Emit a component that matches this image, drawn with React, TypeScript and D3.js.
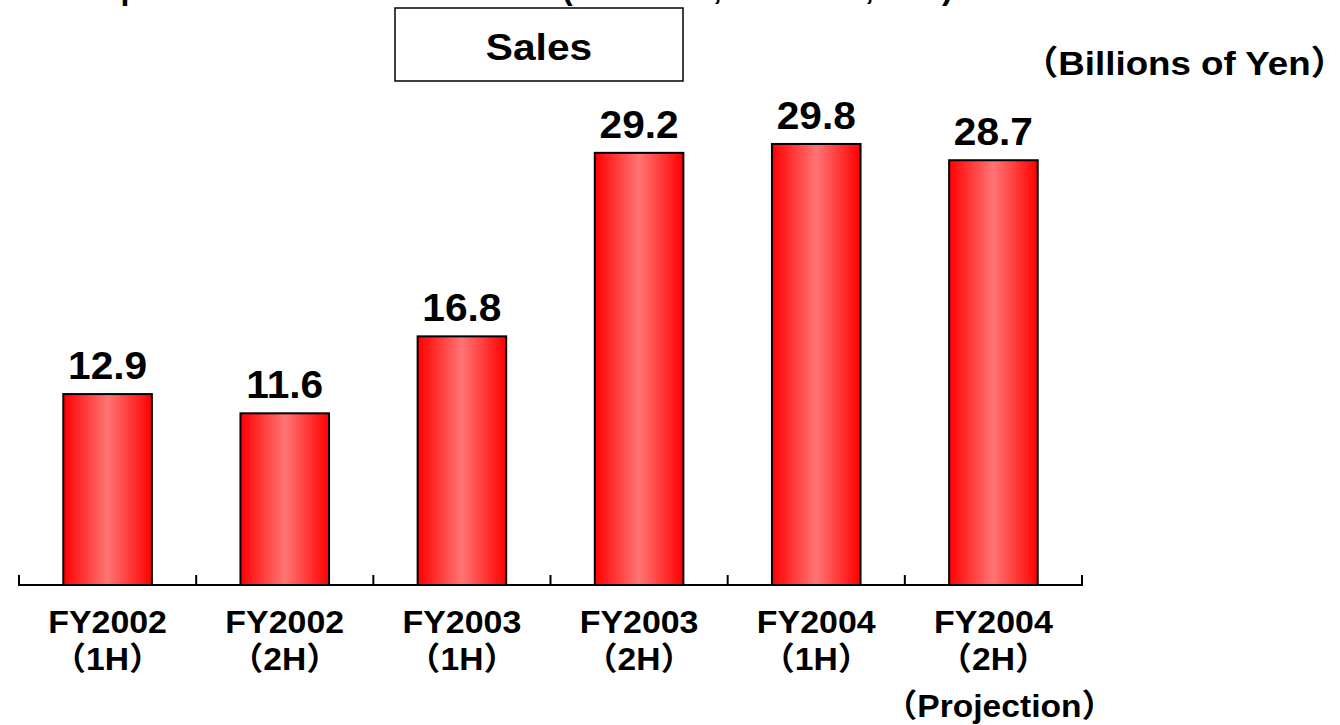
import React from "react";
import * as d3 from "d3";

const categories = ["FY2002", "FY2002", "FY2003", "FY2003", "FY2004", "FY2004"];
const periods = ["（1H）", "（2H）", "（1H）", "（2H）", "（1H）", "（2H）"];
const notes = ["", "", "", "", "", "（Projection）"];
const sales = [12.9, 11.6, 16.8, 29.2, 29.8, 28.7];
const chartTitle = "Sales";
const unitLabel = "（Billions of Yen）";

const W = 1340;
const H = 725;
const FONT = "'Liberation Sans', Arial, 'Noto Sans CJK JP', sans-serif";

export default function App() {
  const idx = sales.map((_, i) => String(i));
  const x = d3.scaleBand<string>().domain(idx).range([19, 1082]).paddingInner(0.5).paddingOuter(0.25);
  const y = d3.scaleLinear().domain([0, 35]).range([585, 67]);
  const step = x.step();
  const left = 19;
  const ticks = d3.range(categories.length + 1).map((i) => left + i * step);

  const txt = (
    s: string,
    tx: number,
    ty: number,
    size: number,
    sx: number,
    anchor: "start" | "middle" | "end" = "middle"
  ) => (
    <g transform={`translate(${tx},${ty}) scale(${sx},1)`}>
      <text
        x={0}
        y={0}
        textAnchor={anchor}
        fontFamily={FONT}
        fontWeight="bold"
        fontSize={size}
        fill="#000"
        style={{ fontFeatureSettings: '"halt"' }}
      >
        {s}
      </text>
    </g>
  );

  return (
    <svg
      width={W}
      height={H}
      style={{ position: "absolute", left: 0, top: 0, background: "#fff" }}
    >
      <defs>
        <linearGradient id="barGrad" x1="0" y1="0" x2="1" y2="0">
          <stop offset="0" stopColor="#ff0000" />
          <stop offset="0.5" stopColor="#ff7575" />
          <stop offset="1" stopColor="#ff0000" />
        </linearGradient>
      </defs>
      <rect x={0} y={0} width={W} height={H} fill="#fff" />

      {/* cut-off headline above the visible area (only descenders show) */}
      <text y={-1} fontFamily={FONT} fontWeight="bold" fontSize={32} fill="#000">
        <tspan x={44}>Group</tspan>
        <tspan x={562}>(FY2002</tspan>
        <tspan x={713}>, FY2003</tspan>
        <tspan x={865}>, etc.</tspan>
        <tspan x={942}>)</tspan>
      </text>

      {/* title box */}
      <rect x={395} y={8} width={288} height={73} fill="#fff" stroke="#000" strokeWidth={1.5} />
      {txt(chartTitle, 539, 60, 37, 1.1)}

      {/* unit label */}
      {txt(unitLabel, 1040, 75, 34, 1.08, "start")}

      {/* bars */}
      {sales.map((v, i) => {
        const bx = x(String(i))!;
        return (
          <g key={i}>
            <rect
              x={bx}
              y={y(v)}
              width={x.bandwidth()}
              height={y(0) - y(v)}
              fill="url(#barGrad)"
              stroke="#000"
              strokeWidth={2}
            />
            {txt(v.toFixed(1), bx + x.bandwidth() / 2, y(v) - 15, 38, 1.07)}
          </g>
        );
      })}

      {/* axis */}
      <line x1={left} x2={1082} y1={y(0)} y2={y(0)} stroke="#000" strokeWidth={2} />
      {ticks.map((t, i) => (
        <line key={i} x1={t} x2={t} y1={y(0) - 10} y2={y(0) + 1} stroke="#000" strokeWidth={2} />
      ))}

      {/* category labels */}
      {categories.map((c, i) => {
        const cx = x(String(i))! + x.bandwidth() / 2;
        return (
          <g key={i}>
            {txt(c, cx, 633, 32, 1.06)}
            {txt(periods[i], cx, 670, 32, 1.05)}
            {notes[i] ? txt(notes[i], cx + 6, 717, 32, 1.05) : null}
          </g>
        );
      })}
    </svg>
  );
}
